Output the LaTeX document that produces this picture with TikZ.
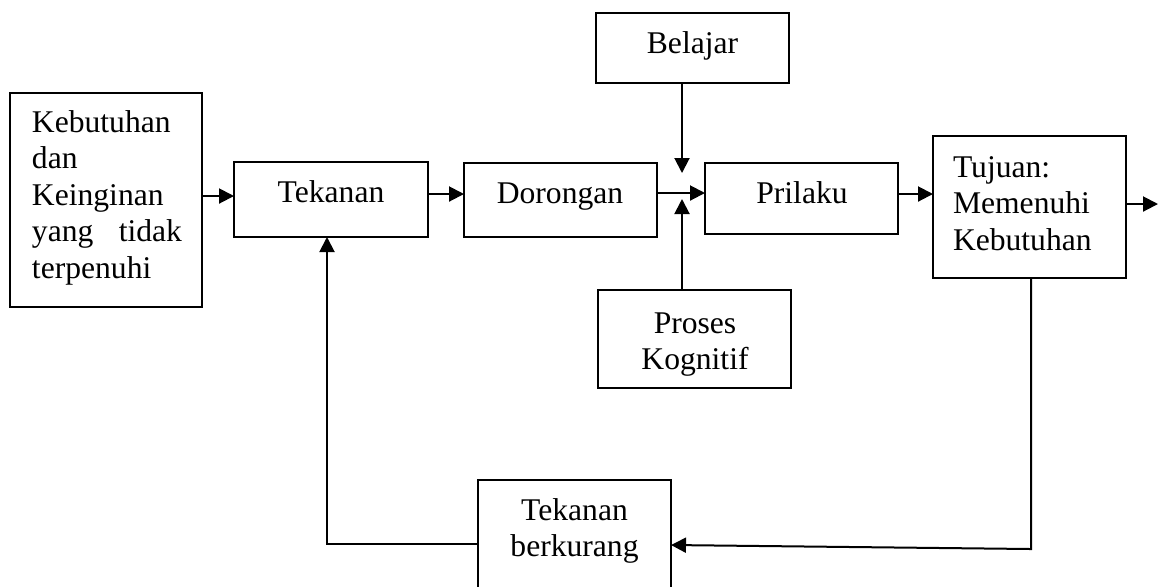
\documentclass[tikz,border=0pt]{standalone}
\usepackage{fontspec}
\setmainfont{Liberation Serif}
\usetikzlibrary{arrows.meta}
\begin{document}
\begin{tikzpicture}[x=0.5pt,y=-0.5pt,
  box/.style={draw,line width=1pt,inner sep=0pt,outer sep=0pt,rectangle},
  txt/.style={font=\fontsize{15.8}{18.3}\selectfont,inner sep=0pt,outer sep=0pt},
  arr/.style={line width=1pt,-{Triangle[length=7.5pt,width=7.5pt]}}]
\clip (0,0) rectangle (1160,586);
% boxes
\node[box,minimum width=96pt,minimum height=107pt] (keb) at (106,200) {};
\node[box,minimum width=97pt,minimum height=37.5pt] (tek) at (331,199.5) {};
\node[box,minimum width=96.5pt,minimum height=37pt] (dor) at (560.5,200) {};
\node[box,minimum width=96.5pt,minimum height=35pt] (bel) at (692.5,48) {};
\node[box,minimum width=96.5pt,minimum height=35.5pt] (pri) at (801.5,198.5) {};
\node[box,minimum width=96.5pt,minimum height=71pt] (tuj) at (1029.5,207) {};
\node[box,minimum width=96.5pt,minimum height=49pt] (pro) at (694.5,339) {};
\node[box,minimum width=96.5pt,minimum height=60pt] (ber) at (574.5,540) {};
% texts
\node[txt,anchor=base west,text width=75pt,align=left] (kebt) at (32,132)
  {Kebutuhan\\dan\\Keinginan\\\makebox[75pt][s]{yang\hfill tidak}\\terpenuhi};
\node[txt,anchor=base] (tekt) at (331,202) {Tekanan};
\node[txt,anchor=base] (dort) at (560,203) {Dorongan};
\node[txt,anchor=base] (belt) at (692.5,53) {Belajar};
\node[txt,anchor=base] (prit) at (802,203) {Prilaku};
\node[txt,anchor=base,text width=90pt,align=center] (prot) at (695,333) {Proses\\Kognitif};
\node[txt,anchor=base west,text width=85pt,align=left] (tujt) at (953,177) {Tujuan:\\Memenuhi\\Kebutuhan};
\node[txt,anchor=base,text width=90pt,align=center] (bert) at (574.5,520) {Tekanan\\berkurang};
% connectors
\coordinate (k1) at ([yshift=2pt]keb.east);
\draw[arr] (k1) -- (k1 -| tek.west);
\coordinate (t1) at ([yshift=2.75pt]tek.east);
\draw[arr] (t1) -- (t1 -| dor.west);
\coordinate (d1) at ([yshift=3.5pt]dor.east);
\draw[arr] (d1) -- (d1 -| pri.west);
\coordinate (p1) at ([yshift=2.25pt]pri.east);
\draw[arr] (p1) -- (p1 -| tuj.west);
\coordinate (o1) at (1158,204);
\draw[arr] (tuj.east |- o1) -- (o1);
\coordinate (jt) at (682,173);
\coordinate (jb) at (682,199);
\draw[arr] (bel.south -| jt) -- (jt);
\draw[arr] (pro.north -| jb) -- (jb);
\coordinate (f1) at (1031,549);
\draw[arr] (tuj.south -| f1) -- (f1) -- ([yshift=-2.5pt]ber.east);
\coordinate (f2) at (327,544);
\draw[arr] (ber.west |- f2) -- (f2) -- (f2 |- tek.south);
\end{tikzpicture}
\end{document}
